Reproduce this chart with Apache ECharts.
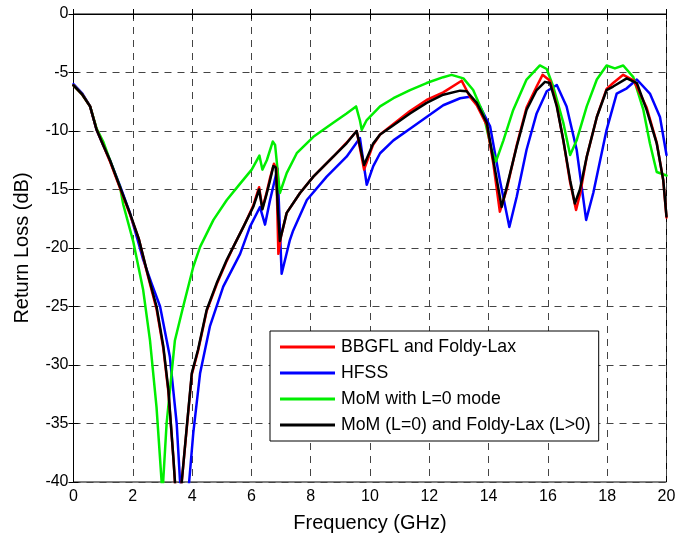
<!DOCTYPE html>
<html><head><meta charset="utf-8">
<script src="https://cdn.jsdelivr.net/npm/echarts@6/dist/echarts.min.js"></script>
<style>html,body{margin:0;padding:0;background:#fff}#c{width:679px;height:541px}</style>
</head><body><div id="c"></div>
<script>
const xTicks = [0,2,4,6,8,10,12,14,16,18,20];
const yTicks = [-40,-35,-30,-25,-20,-15,-10,-5,0];
const names = ['BBGFL and Foldy-Lax','HFSS','MoM with L=0 mode','MoM (L=0) and Foldy-Lax (L>0)'];

const redX = [0,0.3,0.56,0.78,1.0,1.23,1.57,1.9,2.2,2.47,2.8,3.03,3.2,3.37,3.5,3.65,3.82,3.99,4.2,4.49,4.83,5.17,5.45,5.73,6.06,6.26,6.37,6.5,6.63,6.76,6.84,6.91,7.0,7.19,7.64,8.09,8.76,9.21,9.55,9.8,10.1,10.34,10.79,11.35,11.91,12.47,13.09,13.37,13.6,13.94,14.16,14.38,14.61,14.95,15.28,15.62,15.82,16.07,16.3,16.52,16.75,16.95,17.1,17.31,17.65,17.98,18.2,18.54,18.9,19.33,19.67,19.89,20];
const redY = [-6.1,-6.9,-7.9,-9.9,-11.2,-12.6,-14.9,-17.1,-19.2,-22,-25.2,-28.6,-32.3,-38,-43,-40,-35.4,-30.8,-28.8,-25.4,-23.1,-21.1,-19.6,-18.2,-16.4,-14.8,-16.6,-15.4,-14.0,-12.8,-13.2,-20.5,-19.0,-17.0,-15.3,-13.9,-12.2,-11.0,-10.0,-13.3,-11.2,-10.3,-9.4,-8.3,-7.35,-6.7,-5.7,-7.07,-7.8,-9.5,-12.8,-16.9,-15,-11.2,-8.0,-6.2,-5.2,-5.7,-7.8,-10.8,-14.4,-16.75,-15.2,-12.2,-8.8,-6.4,-5.9,-5.2,-5.7,-8.0,-11,-14.2,-17.4];

const blueX = [0,0.3,0.56,0.78,1.0,1.23,1.57,1.9,2.13,2.35,2.63,2.92,3.25,3.48,3.59,3.75,3.9,4.04,4.27,4.6,5.05,5.62,5.95,6.29,6.46,6.63,6.88,6.94,7.02,7.3,7.41,7.87,8.54,9.21,9.66,9.89,10.11,10.34,10.79,11.35,11.91,12.47,13.04,13.37,13.71,14.05,14.38,14.7,14.95,15.28,15.62,15.96,16.3,16.63,16.97,17.29,17.53,17.98,18.32,18.66,19.0,19.44,19.78,20];
const blueY = [-6.0,-6.8,-7.9,-9.9,-11.2,-12.5,-14.7,-17,-19,-21,-23,-25,-29.3,-35,-39.8,-44,-40,-35.8,-30.7,-26.7,-23.3,-20.5,-18.2,-16.5,-18.0,-15.9,-13.2,-17,-22.2,-19.3,-18.5,-15.9,-13.9,-12.2,-10.6,-14.6,-13.0,-11.9,-10.8,-9.8,-8.8,-7.8,-7.2,-7.07,-7.9,-9.6,-14.2,-18.2,-15.6,-11.6,-8.5,-6.6,-6.07,-7.9,-11.6,-17.6,-15.3,-9.9,-6.8,-6.35,-5.6,-6.8,-8.8,-12.05];

const greenX = [0,0.3,0.56,0.78,1.0,1.23,1.57,1.68,2.02,2.35,2.58,2.8,3.0,3.14,3.42,3.7,4.04,4.27,4.72,5.17,5.62,6.01,6.27,6.37,6.52,6.72,6.8,6.96,7.19,7.53,8.09,8.76,9.21,9.53,9.66,9.72,9.89,10.34,10.79,11.35,11.91,12.47,12.75,13.15,13.48,13.82,14.1,14.25,14.5,14.83,15.28,15.73,15.96,16.18,16.52,16.75,16.97,17.31,17.65,17.98,18.26,18.54,18.88,19.22,19.44,19.67,20];
const greenY = [-6.1,-6.9,-7.9,-9.8,-10.9,-12.5,-14.8,-16.3,-19.5,-23.6,-27.9,-33.6,-41,-35,-27.9,-25,-21.6,-19.9,-17.6,-15.9,-14.5,-13.3,-12.1,-13.3,-12.5,-10.9,-11.2,-15.3,-13.6,-11.9,-10.5,-9.3,-8.5,-7.9,-9.1,-9.9,-9.06,-7.9,-7.2,-6.5,-5.9,-5.4,-5.2,-5.5,-6.5,-8.5,-11.6,-12.6,-10.8,-8.2,-5.6,-4.4,-4.7,-6.2,-9.3,-12.05,-10.8,-7.9,-5.6,-4.4,-4.65,-4.4,-5.4,-8.2,-11.05,-13.5,-13.8];

const blackX = [0,0.3,0.56,0.78,1.0,1.23,1.57,1.9,2.2,2.47,2.8,3.03,3.2,3.37,3.5,3.65,3.82,3.99,4.2,4.49,4.83,5.17,5.45,5.73,6.06,6.26,6.37,6.5,6.63,6.74,6.82,6.9,6.96,7.19,7.64,8.09,8.76,9.21,9.55,9.8,10.1,10.34,10.79,11.35,11.91,12.47,13.04,13.26,13.6,13.94,14.16,14.44,14.61,14.95,15.28,15.62,15.9,16.07,16.3,16.52,16.75,16.91,17.08,17.31,17.65,17.98,18.2,18.66,19.0,19.33,19.67,19.89,20];
const blackY = [-6.1,-6.9,-7.9,-9.9,-11.2,-12.5,-14.8,-17,-19.2,-21.9,-25,-28.4,-32.1,-38,-43,-40,-35.3,-30.7,-28.7,-25.3,-23,-21,-19.6,-18.2,-16.5,-15.0,-16.7,-15.5,-14.2,-13.0,-13.1,-17,-19.4,-17,-15.3,-13.9,-12.2,-11.05,-10.0,-12.9,-11.1,-10.3,-9.5,-8.5,-7.6,-6.9,-6.55,-6.6,-7.6,-9.3,-12.5,-16.5,-14.8,-11.3,-8.2,-6.5,-5.8,-5.9,-7.9,-10.8,-14.2,-16.2,-15.0,-12.2,-8.8,-6.5,-6.2,-5.5,-5.9,-8.2,-11.05,-14.2,-17.3];

function pairs(xs, ys){ return xs.map((x,i)=>[x, ys[i]]); }

const chart = echarts.init(document.getElementById('c'), null, {renderer:'canvas'});
const font = 'Arial, "Liberation Sans", sans-serif';
function line(name, xs, ys, color, z){
  return {name, type:'line', data:pairs(xs,ys), showSymbol:false, symbol:'none',
    lineStyle:{color, width:2.5, join:'round', cap:'round'}, itemStyle:{color}, z, clip:true, animation:false};
}
chart.setOption({
  animation:false,
  backgroundColor:'#fff',
  grid:{left:73.5, top:14, width:593, height:468, show:true, borderColor:'#000', borderWidth:1},
  legend:{
    data:names, orient:'vertical', left:270, top:331, padding:[6,8,6,10],
    backgroundColor:'#fff', borderColor:'#000', borderWidth:1, borderRadius:0,
    itemWidth:55, itemHeight:3, itemGap:6, icon:'rect',
    textStyle:{fontFamily:font, fontSize:17.7, color:'#000', lineHeight:20, padding:[0,0,0,1]},
    selectedMode:false
  },
  xAxis:[{
    type:'value', min:0, max:20, interval:2, position:'bottom',
    name:'Frequency (GHz)', nameLocation:'middle', nameGap:31,
    nameTextStyle:{fontFamily:font, fontSize:20, color:'#000'},
    axisLine:{show:true, lineStyle:{color:'#000'}},
    axisTick:{show:true, inside:true, length:5, lineStyle:{color:'#000'}},
    axisLabel:{fontFamily:font, fontSize:16, color:'#000', margin:7},
    splitLine:{show:true, lineStyle:{color:'#444', type:[7,6], width:1}}
  },{
    type:'value', min:0, max:20, interval:2, position:'top',
    axisLine:{show:true, lineStyle:{color:'#000'}},
    axisTick:{show:true, inside:true, length:5, lineStyle:{color:'#000'}},
    axisLabel:{show:false}, splitLine:{show:false}
  }],
  yAxis:[{
    type:'value', min:-40, max:0, interval:5, position:'left',
    name:'Return Loss (dB)', nameLocation:'middle', nameGap:41, nameRotate:90,
    nameTextStyle:{fontFamily:font, fontSize:20, color:'#000'},
    axisLine:{show:true, lineStyle:{color:'#000'}},
    axisTick:{show:true, inside:true, length:5, lineStyle:{color:'#000'}},
    axisLabel:{fontFamily:font, fontSize:16, color:'#000', margin:5},
    splitLine:{show:true, lineStyle:{color:'#444', type:[7,6], width:1}}
  },{
    type:'value', min:-40, max:0, interval:5, position:'right',
    axisLine:{show:true, lineStyle:{color:'#000'}},
    axisTick:{show:true, inside:true, length:5, lineStyle:{color:'#000'}},
    axisLabel:{show:false}, splitLine:{show:false}
  }],
  series:[
    line(names[1], blueX, blueY, '#0000ff', 2),
    line(names[2], greenX, greenY, '#00ee00', 3),
    line(names[0], redX, redY, '#ff0000', 4),
    line(names[3], blackX, blackY, '#000000', 5)
  ]
});
</script></body></html>
